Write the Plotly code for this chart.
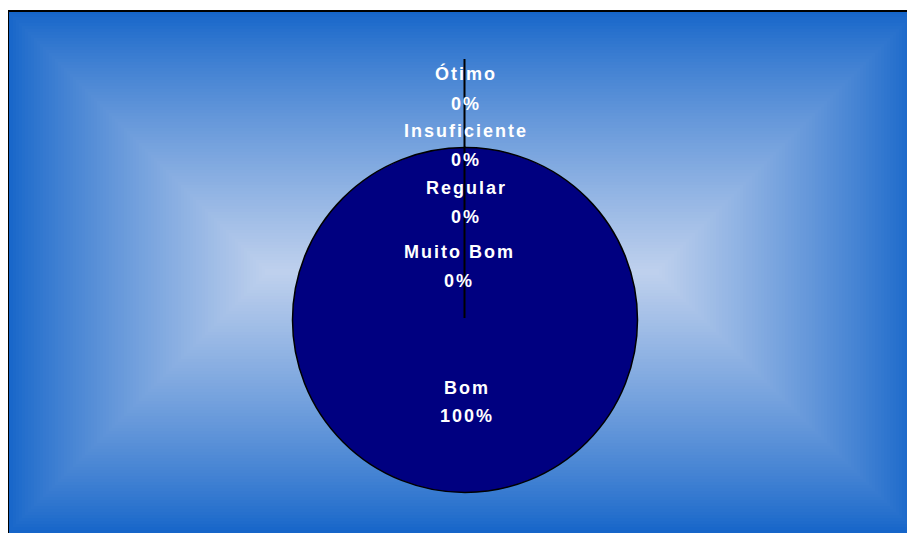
import plotly.graph_objects as go

# ---- data ----
categories = ["Ótimo", "Insuficiente", "Regular", "Muito Bom", "Bom"]
values = [0, 0, 0, 0, 1]
slice_color = "#000080"

# ---- layout constants (pixels, in window coordinates) ----
W, H = 915, 533
OFF = 8                      # default page margin
FW, FH = W - OFF, H - OFF    # figure size
total = sum(values)
pcts = [v / total * 100 for v in values]

def px(x):
    return (x - OFF) / FW

def py(y):
    return 1 - (y - OFF) / FH

shapes = []
# background: rectangular "from centre" gradient built from nested rectangles
fx0, fy0, fx1, fy1 = 7, 11, 917, 533
edge = (21, 101, 201)
centre = (190, 208, 237)
step = 3
n = int((fy1 - fy0) / 2 / step)
for k in range(n):
    t = (k / (n - 1)) ** 0.85
    c = tuple(round(edge[i] + (centre[i] - edge[i]) * t) for i in range(3))
    ins = k * step
    shapes.append(dict(type="rect", xref="paper", yref="paper", layer="below",
                       x0=px(fx0 + ins), x1=px(fx1 - ins),
                       y0=py(fy1 - ins), y1=py(fy0 + ins),
                       fillcolor="rgb(%d,%d,%d)" % c, line=dict(width=0)))
# frame border
shapes.append(dict(type="rect", xref="paper", yref="paper", layer="below",
                   x0=px(8), x1=px(930), y0=py(550), y1=py(11),
                   fillcolor="rgba(0,0,0,0)", line=dict(color="black", width=2)))

cx, cy, r = 465, 320, 172.5
fig = go.Figure(go.Pie(
    labels=categories, values=values, sort=False, direction="clockwise",
    rotation=0, textinfo="none", hoverinfo="label+percent",
    marker=dict(colors=[slice_color] * len(values), line=dict(color="black", width=1.5)),
    domain=dict(x=[px(cx - r), px(cx + r)], y=[py(cy + r), py(cy - r)]),
    showlegend=False,
))

# leader line for the zero slices
shapes.append(dict(type="line", xref="paper", yref="paper", layer="above",
                   x0=px(464.5), x1=px(464.5), y0=py(59), y1=py(318),
                   line=dict(color="black", width=2)))

# label positions (cap centres in pixels)
label_pos = {
    "Ótimo": (466, 74, 104),
    "Insuficiente": (466, 131, 160),
    "Regular": (466, 188, 217),
    "Muito Bom": (459, 252, 281),
    "Bom": (467, 388, 416),
}
font = dict(family="Liberation Sans, Arial, sans-serif", size=18, color="white")
ann = []
for cat, p in zip(categories, pcts):
    x, y1, y2 = label_pos[cat]
    for txt, yy in ((cat, y1), ("%d%%" % round(p), y2)):
        ann.append(dict(xref="paper", yref="paper", x=px(x), y=py(yy),
                        xanchor="center", yanchor="middle", showarrow=False,
                        text='<b><span style="letter-spacing:2px">%s</span></b>' % txt,
                        font=font))

fig.update_layout(width=FW, height=FH, margin=dict(l=0, r=0, t=0, b=0),
                  paper_bgcolor="white", plot_bgcolor="white",
                  shapes=shapes, annotations=ann)
fig.write_html("out.html")
